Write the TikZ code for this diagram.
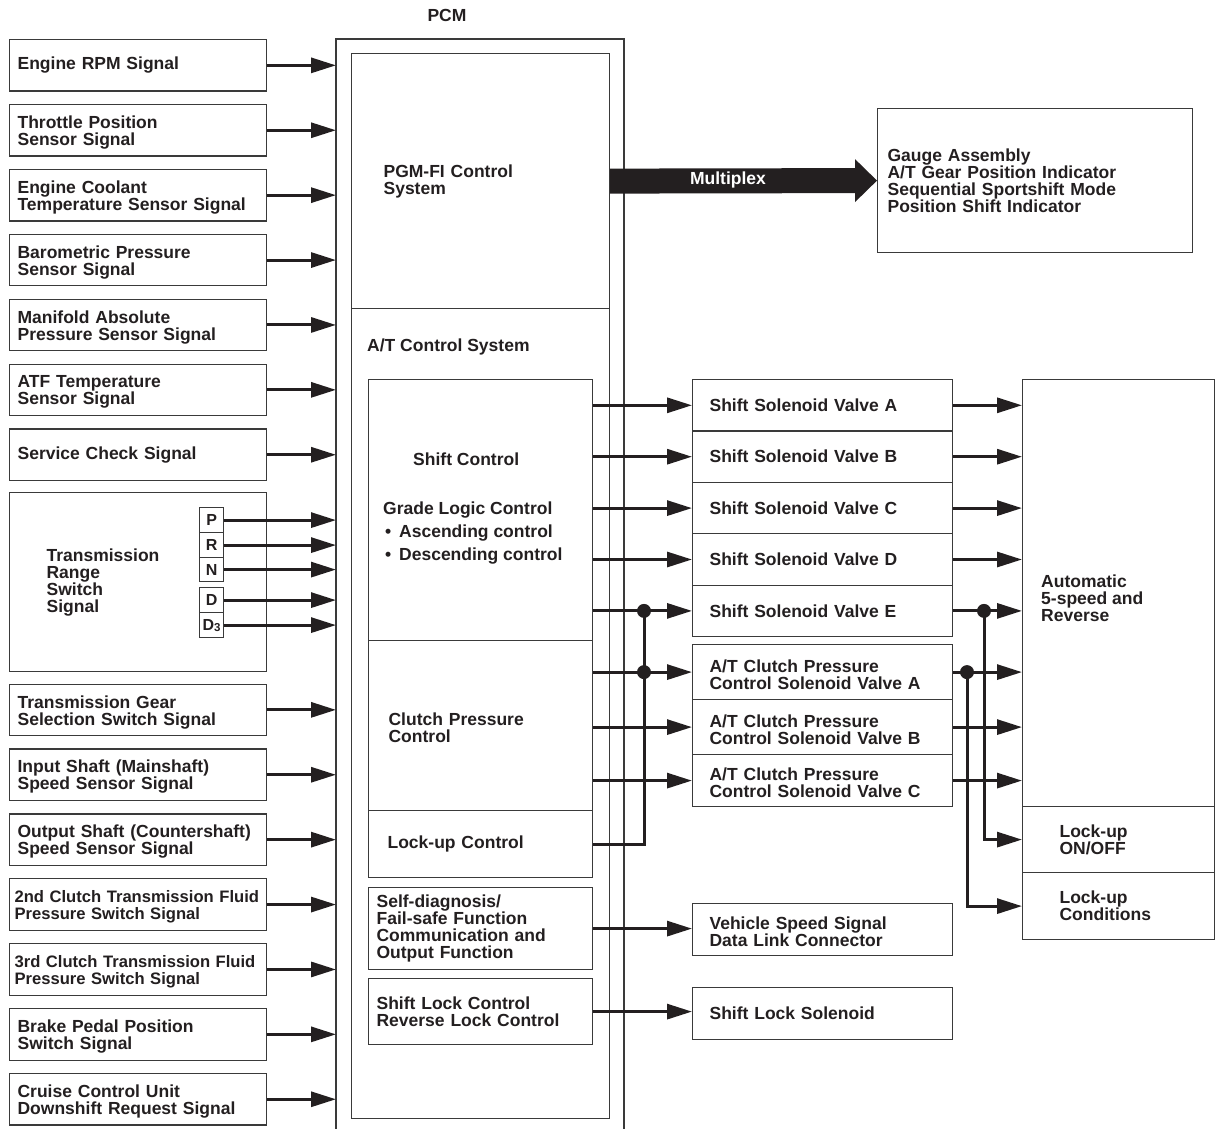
\documentclass[tikz,border=0pt]{standalone}
\usepackage{fontspec}
\setmainfont{Liberation Sans}
\usetikzlibrary{arrows.meta,calc}
\definecolor{ink}{HTML}{231F20}
\definecolor{rule}{HTML}{3A3A3A}

\begin{document}
\begin{tikzpicture}[x=1pt,y=-1pt,
  every node/.style={font=\fontsize{17.5}{17}\selectfont\bfseries, text=ink},
  box/.style={draw=rule, line width=1.2pt, rectangle, anchor=north west, inner ysep=0pt, align=left},
  pad/.style={execute at begin node={\rule{0pt}{17pt}}},
  insig/.style={box, minimum width=257pt, minimum height=51.5pt, text width=241pt, inner xsep=8pt},
  insigtwo/.style={insig, pad},
  narrowtext/.style={inner xsep=5pt, text width=247pt, font=\fontsize{16.6}{17}\selectfont\bfseries},
  sel/.style={box, minimum width=24pt, inner sep=0pt, align=center, font=\fontsize{16}{16}\selectfont\bfseries},
  valve/.style={box, minimum width=260pt, text width=226pt, inner xsep=17pt},
  valvetwo/.style={valve, pad},
  blockbox/.style={box, minimum width=224pt},
  sidebox/.style={box, minimum width=192pt, text width=118pt, inner xsep=37pt},
  pcmline/.style={draw=rule, line width=1.3pt},
  sig/.style={draw=ink, line width=3pt, -{Triangle[length=25pt,width=15pt]}},
  wire/.style={draw=ink, line width=3pt},
  dot/.style={circle, fill=ink, inner sep=0pt, minimum size=14pt},
  lbl/.style={anchor=base west, inner sep=0pt}]

\useasboundingbox (0,0) rectangle (1215,1129);

% PCM outer frame (open at the bottom)
\node (pcmlabel) at (447,15) {PCM};
\coordinate (pcmL) at (336,39);
\coordinate (pcmR) at (624,39);
\draw[pcmline] (336,1129) -- (pcmL) -- (pcmR) -- (624,1129);

% input signals
\node[insig] (rpm) at (9,39) {Engine RPM Signal};
\node[insigtwo] (tps)   at (9,103.9) {Throttle Position\\Sensor Signal};
\node[insigtwo] (ect)   at (9,168.8) {Engine Coolant\\Temperature Sensor Signal};
\node[insigtwo] (baro)  at (9,233.7) {Barometric Pressure\\Sensor Signal};
\node[insigtwo] (map)   at (9,298.6) {Manifold Absolute\\Pressure Sensor Signal};
\node[insigtwo] (atf)   at (9,363.5) {ATF Temperature\\Sensor Signal};
\node[insig] (svc) at (9,428.4) {Service Check Signal};
\node[box, minimum width=257pt, minimum height=179pt, text width=183pt, inner xsep=37pt] (range) at (9,492)
  {Transmission\\Range\\Switch\\Signal};
\node[insigtwo] (gear)  at (9,683.5) {Transmission Gear\\Selection Switch Signal};
\node[insigtwo] (inss)  at (9,748.4) {Input Shaft (Mainshaft)\\Speed Sensor Signal};
\node[insigtwo] (outss) at (9,813.3) {Output Shaft (Countershaft)\\Speed Sensor Signal};
\node[insigtwo, narrowtext] (cl2) at (9,878.2) {2nd Clutch Transmission Fluid\\Pressure Switch Signal};
\node[insigtwo, narrowtext] (cl3) at (9,943.1) {3rd Clutch Transmission Fluid\\Pressure Switch Signal};
\node[insigtwo] (brake) at (9,1008)  {Brake Pedal Position\\Switch Signal};
\node[insigtwo] (cruise) at (9,1072.9) {Cruise Control Unit\\Downshift Request Signal};

% range switch positions
\node[sel, minimum height=25pt]   (selP)  at (199,507) {P};
\node[sel, minimum height=25pt]   (selR)  at (199,532) {R};
\node[sel, minimum height=24pt]   (selN)  at (199,557) {N};
\node[sel, minimum height=25pt]   (selD)  at (199,587) {D};
\node[sel, minimum height=25pt]   (selD3) at (199,612) {D\raisebox{-1pt}{\fontsize{11.5}{11.5}\selectfont 3}};

\foreach \n in {rpm,tps,ect,baro,map,atf,svc,gear,inss,outss,cl2,cl3,brake,cruise,selP,selR,selN,selD,selD3}
  \draw[sig] (\n.east) -- (\n.east -| pcmL);

% PCM interior
\node[box, minimum width=258pt, minimum height=255pt, text width=194pt, inner xsep=32pt] (pgm) at (351,53)
  {PGM-FI Control\\System};
\node[box, minimum width=258pt, minimum height=810pt] (atcs) at (351,308) {};
\node[lbl] (atlabel) at (367,351) {A/T Control System};

\node[blockbox, minimum height=261pt] (shiftctl) at (368,379) {};
\node[lbl] (shifttitle) at (413,465) {Shift Control};
\node[lbl] (grade) at (383,514) {Grade Logic Control};
\node[lbl] (asc)   at (383,537) {\makebox[16pt][l]{\hspace{2pt}•}Ascending control};
\node[lbl] (desc)  at (383,560) {\makebox[16pt][l]{\hspace{2pt}•}Descending control};

\node[blockbox, pad, minimum height=170pt, text width=184pt, inner xsep=20pt] (clutchctl) at (368,640)
  {Clutch Pressure\\Control};
\node[blockbox, minimum height=67pt, text width=186pt, inner xsep=19pt] (lockctl) at (368,810)
  {Lock-up Control};
\node[blockbox, minimum height=82pt, text width=208pt, inner xsep=8pt] (diag) at (368,887)
  {Self-diagnosis/\\Fail-safe Function\\Communication and\\Output Function};
\node[blockbox, minimum height=66pt, text width=208pt, inner xsep=8pt] (slctl) at (368,978)
  {Shift Lock Control\\Reverse Lock Control};

% gauge assembly and multiplex link
\node[box, minimum width=315pt, minimum height=144pt, text width=295pt, inner xsep=10pt] (gauge) at (877,108)
  {Gauge Assembly\\A/T Gear Position Indicator\\Sequential Sportshift Mode\\Position Shift Indicator};
\fill[ink] ($(pgm.east)+(0,-12.5)$) -- ($(gauge.west)+(-22,-12.5)$) -- ($(gauge.west)+(-22,-21.5)$)
  -- (gauge.west) -- ($(gauge.west)+(-22,21.5)$) -- ($(gauge.west)+(-22,12.5)$)
  -- ($(pgm.east)+(0,12.5)$) -- cycle;
\node[text=white] (mux) at (728,180) {Multiplex};

% solenoid valves
\node[valve, minimum height=51.4pt] (sA) at (692,379)   {Shift Solenoid Valve A};
\node[valve, minimum height=51.4pt] (sB) at (692,430.4) {Shift Solenoid Valve B};
\node[valve, minimum height=51.4pt] (sC) at (692,481.8) {Shift Solenoid Valve C};
\node[valve, minimum height=51.4pt] (sD) at (692,533.2) {Shift Solenoid Valve D};
\node[valve, minimum height=51.4pt] (sE) at (692,584.6) {Shift Solenoid Valve E};
\node[valvetwo, minimum height=55pt] (cA) at (692,644) {A/T Clutch Pressure\\Control Solenoid Valve A};
\node[valvetwo, minimum height=55pt] (cB) at (692,699) {A/T Clutch Pressure\\Control Solenoid Valve B};
\node[valvetwo, minimum height=52pt] (cC) at (692,754) {A/T Clutch Pressure\\Control Solenoid Valve C};
\node[valvetwo, minimum height=52pt] (vss) at (692,903) {Vehicle Speed Signal\\Data Link Connector};
\node[valve, minimum height=52pt] (sls) at (692,987) {Shift Lock Solenoid};

% transmission side
\node[box, minimum width=192pt, minimum height=427pt] (auto) at (1022,379) {};
\node[anchor=west, align=left, inner sep=0pt] (autotext) at (1041,598) {Automatic\\5-speed and\\Reverse};
\node[sidebox, minimum height=66pt] (lockon) at (1022,806) {Lock-up\\ON/OFF};
\node[sidebox, minimum height=67pt] (lockcond) at (1022,872) {Lock-up\\Conditions};

% PCM outputs
\foreach \v in {sA,sB,sC,sD,sE}
  \draw[sig] (\v.west -| shiftctl.east) -- (\v.west);
\foreach \v in {cA,cB,cC}
  \draw[sig] (\v.west -| clutchctl.east) -- (\v.west);
\coordinate (busL) at (644,0);
\draw[wire] (lockctl.east) -- (lockctl.east -| busL) -- (sE.west -| busL);
\node[dot] (jE) at (sE.west -| busL) {};
\node[dot] (jA) at (cA.west -| busL) {};

\draw[sig] (diag.east) -- (diag.east -| vss.west);
\draw[sig] (slctl.east) -- (slctl.east -| sls.west);

% valve outputs to the transmission
\foreach \v in {sA,sB,sC,sD,sE,cA,cB,cC}
  \draw[sig] (\v.east) -- (\v.east -| auto.west);
\coordinate (busR1) at (984,0);
\coordinate (busR2) at (967,0);
\draw[sig] (sE.east -| busR1) -- (lockon.west -| busR1) -- (lockon.west);
\draw[sig] (cA.east -| busR2) -- (lockcond.west -| busR2) -- (lockcond.west);
\node[dot] (jRE) at (sE.east -| busR1) {};
\node[dot] (jRA) at (cA.east -| busR2) {};

\end{tikzpicture}
\end{document}
